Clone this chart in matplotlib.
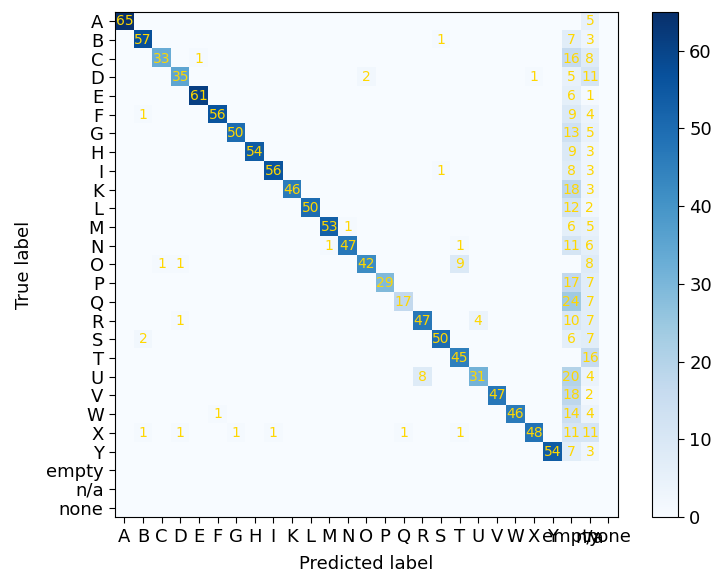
import numpy as np
import matplotlib
matplotlib.use("Agg")
import matplotlib.pyplot as plt

labels = ["A", "B", "C", "D", "E", "F", "G", "H", "I", "K", "L", "M", "N", "O",
          "P", "Q", "R", "S", "T", "U", "V", "W", "X", "Y", "empty", "n/a", "none"]

# diagonal (correct) counts per true label
diag = [65, 57, 33, 35, 61, 56, 50, 54, 56, 46, 50, 53, 47, 42,
        29, 17, 47, 50, 45, 31, 47, 46, 48, 54, 0, 0, 0]
# predicted "empty" counts per true label
pred_empty = [0, 7, 16, 5, 6, 9, 13, 9, 8, 18, 12, 6, 11, 0,
              17, 24, 10, 6, 0, 20, 18, 14, 11, 7, 0, 0, 0]
# predicted "n/a" counts per true label
pred_na = [5, 3, 8, 11, 1, 4, 5, 3, 3, 3, 2, 5, 6, 8,
           7, 7, 7, 7, 16, 4, 2, 4, 11, 3, 0, 0, 0]
# other off-diagonal confusions: (true, predicted, count)
off_diag = [("B", "S", 1), ("C", "E", 1), ("D", "O", 2), ("D", "X", 1),
            ("F", "B", 1), ("I", "S", 1), ("M", "N", 1), ("N", "M", 1),
            ("N", "T", 1), ("O", "C", 1), ("O", "D", 1), ("O", "T", 9),
            ("R", "D", 1), ("R", "U", 4), ("S", "B", 2), ("U", "R", 8),
            ("W", "F", 1), ("X", "B", 1), ("X", "D", 1), ("X", "G", 1),
            ("X", "I", 1), ("X", "Q", 1), ("X", "T", 1)]

n = len(labels)
cm = np.zeros((n, n), dtype=int)
for i in range(n):
    cm[i, i] = diag[i]
    cm[i, labels.index("empty")] += pred_empty[i]
    cm[i, labels.index("n/a")] += pred_na[i]
for t, p, c in off_diag:
    cm[labels.index(t), labels.index(p)] += c

plt.rcParams["xtick.major.size"] = 4.0
plt.rcParams["ytick.major.size"] = 4.0
plt.rcParams["xtick.major.pad"] = 4.2
plt.rcParams["ytick.major.pad"] = 4.2

fig = plt.figure(figsize=(7.15, 5.74), dpi=100)
ax = fig.add_axes([0.161, 0.0993, 0.703, 0.880])
cax = fig.add_axes([0.912, 0.0993, 0.036, 0.880])

im = ax.imshow(cm, cmap="Blues", vmin=0, vmax=cm.max(), aspect="auto",
               interpolation="nearest")
for i in range(n):
    for j in range(n):
        if cm[i, j] != 0:
            ax.text(j, i, str(cm[i, j]), ha="center", va="center",
                    color="#FFD700", fontsize=10)

ax.set_xticks(range(n))
ax.set_xticklabels(labels, fontsize=13)
ax.set_yticks(range(n))
ax.set_yticklabels(labels, fontsize=13)
ax.set_xlabel("Predicted label", fontsize=13, labelpad=6)
ax.set_ylabel("True label", fontsize=13, labelpad=9)

cb = fig.colorbar(im, cax=cax)
cb.set_ticks([0, 10, 20, 30, 40, 50, 60])
cb.ax.tick_params(labelsize=13)

fig.savefig("out.png", dpi=100)
